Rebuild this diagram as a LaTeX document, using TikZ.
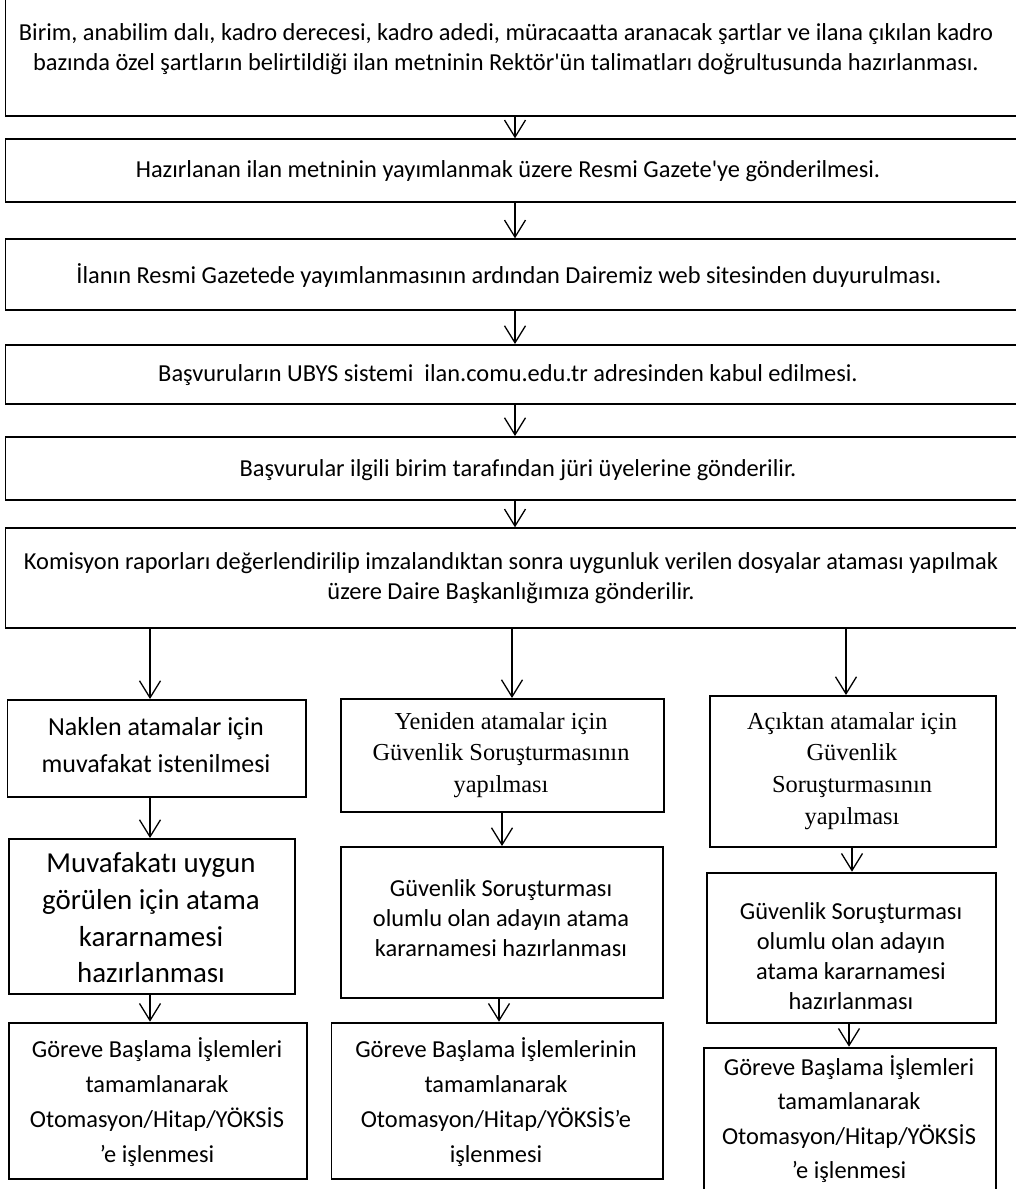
\documentclass[tikz,border=0pt]{standalone}
\usepackage{fontspec}
\setmainfont{Carlito}[Ligatures=NoCommon]
\newfontfamily\tnr{Liberation Serif}
\usetikzlibrary{arrows.meta}
\begin{document}
\begin{tikzpicture}[x=1pt,y=-1pt,
  box/.style={draw, line width=1.9pt, inner sep=0pt, anchor=north west},
  txt/.style={align=center, inner sep=0pt},
  arr/.style={line width=1.3pt, -{Straight Barb[length=17pt,width=21pt]}},
  topf/.style={font=\fontsize{24.4}{30}\selectfont},
  botf/.style={font=\fontsize{24.4}{35}\selectfont},
  ]
\useasboundingbox (0,0) rectangle (1016,1189);
\clip (0,0) rectangle (1016,1189);
% top column boxes
\node[box, minimum width=1021pt, minimum height=134.7pt] (b1) at (4.5,-20) {};
\node[box, minimum width=1021pt, minimum height=62.4pt] (b2) at (4.5,138.3) {};
\node[box, minimum width=1021pt, minimum height=71pt] (b3) at (4.5,238.3) {};
\node[box, minimum width=1021pt, minimum height=58.7pt] (b4) at (4.5,344) {};
\node[box, minimum width=1021pt, minimum height=63.3pt] (b5) at (4.5,436) {};
\node[box, minimum width=1021pt, minimum height=99.4pt] (b6) at (4.5,527.3) {};
\node[txt, topf] (b1t) at (506,48.7) {Birim, anabilim dalı, kadro derecesi, kadro adedi, müracaatta aranacak şartlar ve ilana çıkılan kadro\\bazında özel şartların belirtildiği ilan metninin Rektör\textquotesingle ün talimatları doğrultusunda hazırlanması.};
\node[txt, topf] (b2t) at (508,171.5) {Hazırlanan ilan metninin yayımlanmak üzere Resmi Gazete\textquotesingle ye gönderilmesi.};
\node[txt, topf] (b3t) at (509,275.8) {İlanın Resmi Gazetede yayımlanmasının ardından Dairemiz web sitesinden duyurulması.};
\node[txt, topf] (b4t) at (508,375.4) {Başvuruların UBYS sistemi\ \ ilan.comu.edu.tr adresinden kabul edilmesi.};
\node[txt, topf] (b5t) at (518,469.7) {Başvurular ilgili birim tarafından jüri üyelerine gönderilir.};
\node[txt, topf] (b6t) at (511,578.5) {Komisyon raporları değerlendirilip imzalandıktan sonra uygunluk verilen dosyalar ataması yapılmak\\üzere Daire Başkanlığımıza gönderilir.};
% bottom boxes
\node[box, minimum width=298.5pt, minimum height=97pt] (l1) at (6.5,699) {};
\node[box, minimum width=286pt, minimum height=155pt] (l2) at (8,838) {};
\node[box, minimum width=298pt, minimum height=156.3pt] (l3) at (8,1021.7) {};
\node[box, minimum width=322.7pt, minimum height=113pt] (m1) at (340,698) {};
\node[box, minimum width=322pt, minimum height=151pt] (m2) at (340,846) {};
\node[box, minimum width=331.5pt, minimum height=156.6pt] (m3) at (330.5,1021.7) {};
\node[box, minimum width=286pt, minimum height=151pt] (r1) at (709,695) {};
\node[box, minimum width=289pt, minimum height=150pt] (r2) at (706,871.7) {};
\node[box, minimum width=292pt, minimum height=170pt] (r3) at (703,1046.7) {};
% bottom texts
\node[txt, font=\fontsize{26}{37}\selectfont] (l1t) at (156,745) {Naklen atamalar için\\muvafakat istenilmesi};
\node[txt, font=\fontsize{28.9}{36.7}\selectfont] (l2t) at (151,918) {Muvafakatı uygun\\görülen için atama\\kararnamesi\\hazırlanması};
\node[txt, botf] (l3t) at (157,1102) {Göreve Başlama İşlemleri\\tamamlanarak\\Otomasyon/Hitap/YÖKSİS\\’e işlenmesi};
\node[txt, font=\tnr\fontsize{24.4}{31.7}\selectfont] (m1t) at (501,755) {Yeniden atamalar için\\Güvenlik Soruşturmasının\\yapılması};
\node[txt, font=\fontsize{24.4}{29.8}\selectfont] (m2t) at (501,918) {Güvenlik Soruşturması\\olumlu olan adayın atama\\kararnamesi hazırlanması};
\node[txt, botf] (m3t) at (496,1102) {Göreve Başlama İşlemlerinin\\tamamlanarak\\Otomasyon/Hitap/YÖKSİS’e\\işlenmesi};
\node[txt, font=\tnr\fontsize{24.4}{31.7}\selectfont] (r1t) at (852,771) {Açıktan atamalar için\\Güvenlik\\Soruşturmasının\\yapılması};
\node[txt, font=\fontsize{24.4}{30}\selectfont] (r2t) at (851,956) {Güvenlik Soruşturması\\olumlu olan adayın\\atama kararnamesi\\hazırlanması};
\node[txt, font=\fontsize{24.4}{34.5}\selectfont] (r3t) at (849,1119) {Göreve Başlama İşlemleri\\tamamlanarak\\Otomasyon/Hitap/YÖKSİS\\’e işlenmesi};
% arrow x positions
\coordinate (cT) at (515,0);
\coordinate (cL) at (150,0);
\coordinate (cMa) at (512,0);
\coordinate (cMb) at (502,0);
\coordinate (cMc) at (499,0);
\coordinate (cRa) at (846,0);
\coordinate (cRb) at (852,0);
\coordinate (cRc) at (849,0);
% arrows
\draw[arr] (b1.south -| cT) -- (b2.north -| cT);
\draw[arr] (b2.south -| cT) -- (b3.north -| cT);
\draw[arr] (b3.south -| cT) -- (b4.north -| cT);
\draw[arr] (b4.south -| cT) -- (b5.north -| cT);
\draw[arr] (b5.south -| cT) -- (b6.north -| cT);
\draw[arr] (b6.south -| cL) -- (l1.north -| cL);
\draw[arr] (l1.south -| cL) -- (l2.north -| cL);
\draw[arr] (l2.south -| cL) -- (l3.north -| cL);
\draw[arr] (b6.south -| cMa) -- (m1.north -| cMa);
\draw[arr] (m1.south -| cMb) -- (m2.north -| cMb);
\draw[arr] (m2.south -| cMc) -- (m3.north -| cMc);
\draw[arr] (b6.south -| cRa) -- (r1.north -| cRa);
\draw[arr] (r1.south -| cRb) -- (r2.north -| cRb);
\draw[arr] (r2.south -| cRc) -- (r3.north -| cRc);
\end{tikzpicture}
\end{document}
